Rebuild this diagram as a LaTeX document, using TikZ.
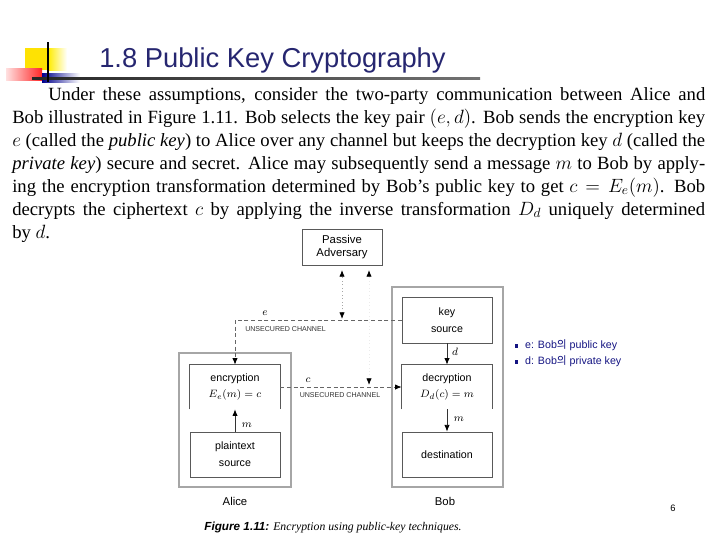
\documentclass[tikz,border=0pt]{standalone}
\usepackage{fontspec}
\setmainfont{Liberation Serif}
\setsansfont{Liberation Sans}
\newfontfamily\cjk{Noto Sans CJK KR}
\usetikzlibrary{arrows.meta}
\definecolor{navy}{RGB}{38,38,112}
\definecolor{bulletblue}{RGB}{20,20,130}
\tikzset{
  para/.style={anchor=base west, inner sep=0pt, font=\fontsize{14}{16}\selectfont},
  box/.style={draw=black!65, line width=0.6pt, align=center, inner sep=0pt,
    font=\sffamily\fontsize{8}{10}\selectfont, minimum width=67.5pt},
  openbox/.style={align=center, inner sep=0pt,
    font=\sffamily\fontsize{8}{12.5}\selectfont, minimum width=67.5pt, minimum height=33pt},
  outerbox/.style={draw=black!35, line width=0.9pt, inner sep=0pt},
  chan/.style={black!60, line width=0.6pt, dash pattern=on 3pt off 2pt},
  tip/.style={-{Latex[length=5pt,width=4pt,color=black]}},
  tap/.style={black!35, line width=0.6pt, dotted,
    {Latex[length=5pt,width=4pt,color=black]}-{Latex[length=5pt,width=4pt,color=black]}},
  lbl/.style={inner sep=0pt, font=\fontsize{8}{9}\selectfont},
  chlbl/.style={inner sep=0pt, font=\sffamily\fontsize{5.3}{6}\selectfont, text=black!80},
  bul/.style={anchor=west, inner sep=0pt, text=bulletblue, font=\sffamily\fontsize{8}{10}\selectfont}
}
\newcommand{\sqb}{\textcolor{bulletblue}{\rule[0.5pt]{2.4pt}{2.4pt}}\hspace{5pt}}
\begin{document}
\begin{tikzpicture}[x=0.75pt,y=-0.75pt]
\useasboundingbox (0,0) rectangle (720,540);
% --- logo ---
\fill[yellow!85!orange] (25,48) rectangle (48,70);
\shade[left color=yellow!85!orange, right color=white] (48,48) rectangle (67,70);
\shade[left color=red!12, right color=red!85] (6,68) rectangle (42,80);
\shade[left color=blue!55!black, right color=white] (42,73) rectangle (80,82);
\shade[left color=black!85, right color=black!55] (32,77.3) rectangle (480,79);
\draw[line width=1pt] (48,42) -- (48,82);
% --- title ---
\node[anchor=base west, inner sep=0pt, text=navy, font=\sffamily\fontsize{20.5}{24}\selectfont] (title) at (99,67) {1.8 Public Key Cryptography};
% --- paragraph ---
\node[para] (l1) at (48,100) {\makebox[492.75pt][s]{Under these assumptions, consider the two-party communication between Alice and}};
\node[para] (l2) at (12,123) {\makebox[519.75pt][s]{Bob illustrated in Figure 1.11. Bob selects the key pair $(e,d)$. Bob sends the encryption key}};
\node[para] (l3) at (12,146) {\makebox[519.75pt][s]{$e$ (called the \textit{public key}) to Alice over any channel but keeps the decryption key $d$ (called the}};
\node[para] (l4) at (12,169) {\makebox[519.75pt][s]{\textit{private key}) secure and secret. Alice may subsequently send a message $m$ to Bob by apply-}};
\node[para] (l5) at (12,192) {\makebox[519.75pt][s]{ing the encryption transformation determined by Bob's public key to get $c = E_e(m)$. Bob}};
\node[para] (l6) at (12,215) {\makebox[519.75pt][s]{decrypts the ciphertext $c$ by applying the inverse transformation $D_d$ uniquely determined}};
\node[para] (l7) at (12,238) {by $d$.};
% --- outer boxes ---
\node[outerbox, minimum width=84pt, minimum height=100.5pt] (alice) at (235,420) {};
\node[outerbox, minimum width=83.25pt, minimum height=150pt] (bob) at (447.5,387) {};
% --- inner boxes ---
\node[box, minimum width=60pt, minimum height=27pt, font=\sffamily\fontsize{8.5}{10}\selectfont] (adv) at (342,247) {Passive\\Adversary};
\node[box, minimum height=34.5pt, font=\sffamily\fontsize{8}{13}\selectfont] (ks) at (447,320) {key\\source};
\node[openbox] (enc) at (235,387) {encryption\\$E_e(m)=c$};
\node[openbox] (dec) at (447,387) {decryption\\$D_d(c)=m$};
\draw[black!65, line width=0.6pt] (enc.south west) -- (enc.north west) -- (enc.north east) -- (enc.south east);
\draw[black!65, line width=0.6pt] (dec.south west) -- (dec.north west) -- (dec.north east) -- (dec.south east);
\node[box, minimum height=33.75pt, font=\sffamily\fontsize{8}{13}\selectfont] (pt) at (235,454.5) {plaintext\\source};
\node[box, minimum height=33.75pt] (dst) at (447,454.5) {destination};
% --- channels ---
\draw[chan, tip] (ks.west) -| (enc.north);
\draw[chan, tip] (enc.east) -- (dec.west);
\draw[black!80, line width=0.6pt, tip] (ks.south) -- (dec.north);
\draw[black!80, line width=0.6pt, tip] (pt.north) -- (enc.south);
\draw[black!80, line width=0.6pt, tip] (dec.south) -- (dst.north);
% --- adversary taps ---
\coordinate (advE) at (342,270);
\coordinate (tapE) at (342,319);
\coordinate (advC) at (369,270);
\coordinate (tapC) at (369,385);
\draw[tap] (tapE) -- (advE);
\draw[tap, black!8] (tapC) -- (advC);
% --- labels ---
\node[lbl] (le) at (265,313) {$e$};
\node[chlbl] (u1) at (285.5,329) {UNSECURED CHANNEL};
\node[lbl] (lc) at (308,380) {$c$};
\node[chlbl] (u2) at (340,395) {UNSECURED CHANNEL};
\node[lbl] (ld) at (455,352) {$d$};
\node[lbl] (lm1) at (247,425) {$m$};
\node[lbl] (lm2) at (459,419) {$m$};
\node[inner sep=0pt, font=\sffamily\fontsize{8.5}{10}\selectfont] (na) at (235,501) {Alice};
\node[inner sep=0pt, font=\sffamily\fontsize{8.5}{10}\selectfont] (nb) at (445,501) {Bob};
\node[inner sep=0pt, font=\fontsize{8.8}{10}\selectfont] (cap) at (333,528) {{\sffamily\bfseries\itshape Figure 1.11:} \textit{Encryption using public-key techniques.}};
% --- bullets ---
\node[bul] (b1) at (515,345) {\sqb e: Bob{\cjk 의} public key};
\node[bul] (b2) at (515,361) {\sqb d: Bob{\cjk 의} private key};
% --- page number ---
\node[inner sep=0pt, font=\sffamily\fontsize{7}{8}\selectfont] (pg) at (673,508) {6};
\end{tikzpicture}
\end{document}
